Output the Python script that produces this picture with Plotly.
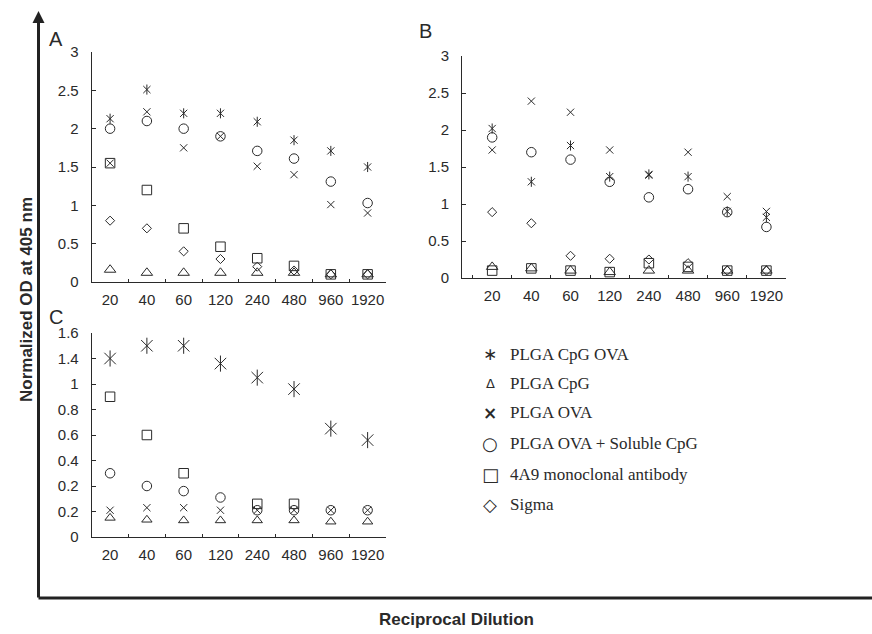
import plotly.graph_objects as go

W, H = 872, 634

categories = ["20", "40", "60", "120", "240", "480", "960", "1920"]
series_names = ["PLGA CpG OVA", "PLGA CpG", "PLGA OVA", "PLGA OVA + Soluble CpG",
                "4A9 monoclonal antibody", "Sigma"]

# Panel A
a_plga_cpg_ova = [2.13, 2.51, 2.20, 2.20, 2.09, 1.85, 1.71, 1.50]
a_plga_cpg = [0.16, 0.12, 0.12, 0.12, 0.12, 0.12, 0.10, 0.10]
a_plga_ova = [1.55, 2.22, 1.75, 1.90, 1.51, 1.40, 1.01, 0.90]
a_plga_ova_cpg = [2.00, 2.10, 2.00, 1.90, 1.71, 1.61, 1.31, 1.03]
a_4a9 = [1.55, 1.20, 0.70, 0.46, 0.31, 0.21, 0.10, 0.10]
a_sigma = [0.80, 0.70, 0.40, 0.30, 0.20, 0.15, 0.10, 0.10]

# Panel B
b_plga_cpg_ova = [2.02, 1.30, 1.79, 1.37, 1.40, 1.37, 0.90, 0.82]
b_plga_cpg = [0.15, 0.13, 0.10, 0.08, 0.10, 0.10, 0.10, 0.10]
b_plga_ova = [1.73, 2.39, 2.24, 1.73, 1.39, 1.70, 1.10, 0.90]
b_plga_ova_cpg = [1.90, 1.70, 1.60, 1.30, 1.09, 1.20, 0.89, 0.69]
b_4a9 = [0.10, 0.13, 0.10, 0.08, 0.20, 0.15, 0.10, 0.10]
b_sigma = [0.89, 0.74, 0.30, 0.26, 0.25, 0.20, 0.10, 0.10]

# Panel C (values in axis units of the drawn scale)
c_plga_cpg_ova = [1.40, 1.50, 1.50, 1.36, 1.25, 1.16, 0.85, 0.76]
c_plga_cpg = [0.15, 0.135, 0.13, 0.13, 0.13, 0.13, 0.12, 0.12]
c_plga_ova = [0.21, 0.23, 0.23, 0.21, 0.21, 0.21, 0.21, 0.21]
c_plga_ova_cpg = [0.50, 0.40, 0.36, 0.31, 0.21, 0.21, 0.21, 0.21]
c_4a9 = [1.10, 0.80, 0.50, None, 0.26, 0.26, None, None]

ab_ticks = [0, 0.5, 1, 1.5, 2, 2.5, 3]
c_tickvals = [0, 0.2, 0.4, 0.6, 0.8, 1.0, 1.2, 1.4, 1.6]
c_ticktext = ["0", "0.2", "0.2", "0.4", "0.6", "0.8", "1", "1.4", "1.6"]

INK = "#2a2a2a"
TICKFONT = dict(family="Liberation Sans Narrow, Arial Narrow, Liberation Sans, Arial", size=15, color=INK)

fig = go.Figure()


def add_series(xa, ya, values, symbol, size, name):
    fig.add_trace(go.Scatter(
        x=categories, y=values, mode="markers", name=name, showlegend=False,
        xaxis=xa, yaxis=ya, cliponaxis=False,
        marker=dict(symbol=symbol, size=size, color=INK,
                    line=dict(color=INK, width=1)),
        hoverinfo="x+y+name"))


def add_panel(xa, ya, data, ast_size=7.2, tri_size=10):
    star, tri, ex, circ, sq, dia = data
    add_series(xa, ya, star, "x-thin-open", ast_size, series_names[0])
    add_series(xa, ya, star, "line-ns-open", ast_size, series_names[0])
    add_series(xa, ya, tri, "triangle-up-open", tri_size, series_names[1])
    add_series(xa, ya, ex, "x-thin-open", 7.2, series_names[2])
    add_series(xa, ya, circ, "circle-open", 9.5, series_names[3])
    add_series(xa, ya, sq, "square-open", 9.5, series_names[4])
    if dia is not None:
        add_series(xa, ya, dia, "diamond-open", 7, series_names[5])


add_panel("x", "y", [a_plga_cpg_ova, a_plga_cpg, a_plga_ova, a_plga_ova_cpg, a_4a9, a_sigma])
add_panel("x2", "y2", [b_plga_cpg_ova, b_plga_cpg, b_plga_ova, b_plga_ova_cpg, b_4a9, b_sigma])
add_panel("x3", "y3", [c_plga_cpg_ova, c_plga_cpg, c_plga_ova, c_plga_ova_cpg, c_4a9, None],
          ast_size=11.5, tri_size=9)


def px_x(p):
    return p / W


def px_y(p):
    return 1 - p / H


xcommon = dict(type="category", categoryorder="array", categoryarray=categories,
               showline=True, linecolor=INK, linewidth=1, showgrid=False, zeroline=False,
               ticks="inside", ticklen=3, tickcolor=INK, tickson="boundaries",
               tickfont=TICKFONT, ticklabelstandoff=4, tickangle=0)
ycommon = dict(showline=True, linecolor=INK, linewidth=1, showgrid=False, zeroline=False,
               ticks="inside", ticklen=4, tickcolor=INK, tickfont=TICKFONT,
               ticklabelstandoff=9)

fig.update_layout(
    width=W, height=H, margin=dict(l=0, r=0, t=0, b=0, autoexpand=False),
    paper_bgcolor="white", plot_bgcolor="white", showlegend=False,
    xaxis=dict(xcommon, domain=[px_x(91.7), px_x(386)], range=[-0.5, 7.5], anchor="y"),
    yaxis=dict(ycommon, domain=[px_y(282), px_y(52)], range=[0, 3], tickvals=ab_ticks, anchor="x"),
    xaxis2=dict(xcommon, domain=[px_x(462), px_x(786)], range=[-0.77, 7.5], anchor="y2"),
    yaxis2=dict(ycommon, domain=[px_y(278), px_y(56)], range=[0, 3], tickvals=ab_ticks, anchor="x2"),
    xaxis3=dict(xcommon, domain=[px_x(91.7), px_x(386)], range=[-0.5, 7.5], anchor="y3"),
    yaxis3=dict(ycommon, domain=[px_y(537), px_y(333)], range=[0, 1.6],
                tickvals=c_tickvals, ticktext=c_ticktext, anchor="x3"),
)

# Outer axes (frame with arrow)
fig.add_shape(type="line", xref="paper", yref="paper", x0=px_x(38.5), x1=1.0,
              y0=px_y(598), y1=px_y(598), line=dict(color="#222", width=3))
fig.add_annotation(x=px_x(38.5), y=px_y(11), xref="paper", yref="paper",
                   ax=0, ay=588, axref="pixel", ayref="pixel", showarrow=True,
                   arrowhead=2, arrowsize=0.8, arrowwidth=3, arrowcolor="#222", text="")

# Panel letters
for letter, x, y in [("A", 56, 39), ("B", 425, 31), ("C", 56, 317)]:
    fig.add_annotation(text=letter, x=px_x(x), y=px_y(y), xref="paper", yref="paper",
                       xanchor="center", yanchor="middle",
                       showarrow=False, font=dict(family="Liberation Sans, Arial", size=20, color=INK))

# Axis titles
fig.add_annotation(text="<b>Reciprocal Dilution</b>", x=px_x(456), y=px_y(619), xref="paper", yref="paper",
                   xanchor="center", yanchor="middle",
                   showarrow=False, font=dict(family="Liberation Sans, Arial", size=17, color=INK))
fig.add_annotation(text="<b>Normalized OD at 405 nm</b>", x=px_x(27), y=px_y(300), xref="paper", yref="paper",
                   xanchor="center", yanchor="middle", showarrow=False, textangle=-90,
                   font=dict(family="Liberation Sans, Arial", size=17, color=INK))

# Legend
legend_symbols = ["∗", "Δ", "<b>×</b>", "○", "□", "◇"]
legend_sym_sizes = [17, 13, 17, 18, 18, 18]
legend_rows = [354, 383, 413, 443, 474, 504]
for sym, ssz, name, ry in zip(legend_symbols, legend_sym_sizes, series_names, legend_rows):
    fig.add_annotation(text=sym, x=px_x(490), y=px_y(ry), xref="paper", yref="paper",
                       showarrow=False, xanchor="center", yanchor="middle",
                       font=dict(family="DejaVu Sans", size=ssz, color=INK))
    fig.add_annotation(text=name, x=px_x(508), y=px_y(ry), xref="paper", yref="paper",
                       showarrow=False, xanchor="left", yanchor="middle",
                       font=dict(family="Liberation Serif, Times New Roman", size=17, color=INK))

fig.write_html(
    "out.html",
    config={"displayModeBar": False},
    post_script=("document.documentElement.style.margin='0';"
                 "document.documentElement.style.overflow='hidden';"
                 "document.body.style.margin='0';document.body.style.overflow='hidden';"),
)
